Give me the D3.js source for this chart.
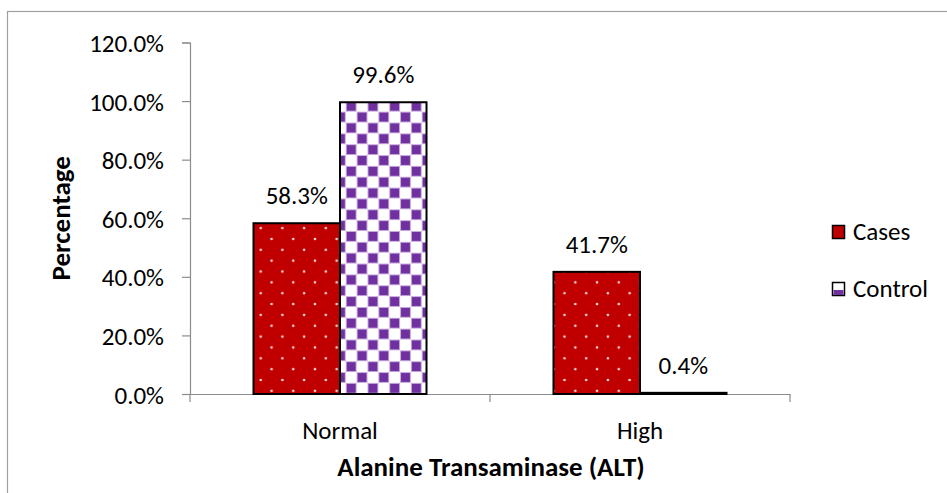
<!DOCTYPE html>
<html>
<head>
<meta charset="utf-8">
<script src="https://cdn.jsdelivr.net/npm/d3@7/dist/d3.min.js"></script>
<style>
  html, body { margin: 0; padding: 0; background: #fff; }
  svg { display: block; font-family: Carlito, Lato, "Liberation Sans", sans-serif; }
</style>
</head>
<body>
<svg id="chart" width="947" height="493"></svg>
<script>
// ALT level distribution, cases vs control
const categories = ["Normal", "High"];
const seriesNames = ["Cases", "Control"];
const casesValues = [58.3, 41.7];
const controlValues = [99.6, 0.4];
const yTicks = [0, 20, 40, 60, 80, 100, 120];

const FONT = "Carlito, Lato, 'Liberation Sans', sans-serif";
const svg = d3.select("#chart");
const margin = { left: 190, right: 157, top: 42.5, bottom: 99 };
const W = 947, H = 493;
const plotW = W - margin.left - margin.right;
const plotH = H - margin.top - margin.bottom;

// outer frame
svg.append("rect")
  .attr("x", 7.5).attr("y", 11.5)
  .attr("width", 960).attr("height", 500)
  .attr("fill", "none").attr("stroke", "#a0a0a0").attr("stroke-width", 1.2);

// fill patterns (coordinates in the plot group's space)
const defs = svg.append("defs");
const P = 21.7;
const dots = defs.append("pattern")
  .attr("id", "dots").attr("patternUnits", "userSpaceOnUse")
  .attr("width", P).attr("height", P).attr("x", 70.7).attr("y", 337.5);
dots.append("rect").attr("width", P).attr("height", P).attr("fill", "#c00000");
[[0, 0], [P, 0], [0, P], [P, P], [P / 2, P / 2]].forEach(([cx, cy]) =>
  dots.append("circle").attr("cx", cx).attr("cy", cy).attr("r", 1.3).attr("fill", "#f6dcdc"));

const checks = defs.append("pattern")
  .attr("id", "checks").attr("patternUnits", "userSpaceOnUse")
  .attr("width", P).attr("height", P).attr("x", 155.8).attr("y", 58.3);
checks.append("rect").attr("width", P).attr("height", P).attr("fill", "#ffffff");
[[0, 0], [P / 2, P / 2]].forEach(([sx, sy]) => {
  checks.append("rect").attr("x", sx).attr("y", sy)
    .attr("width", P / 2).attr("height", P / 2).attr("fill", "#c7a9dc");
  checks.append("rect").attr("x", sx + 1).attr("y", sy + 1)
    .attr("width", P / 2 - 2).attr("height", P / 2 - 2).attr("fill", "#7030a0");
});

const fills = { Cases: "url(#dots)", Control: "url(#checks)" };

const g = svg.append("g").attr("transform", `translate(${margin.left},${margin.top})`);

const x0 = d3.scaleBand().domain(categories).range([0, plotW]).paddingInner(0).paddingOuter(0);
const x1 = d3.scaleBand().domain(seriesNames).range([0, x0.bandwidth()]).paddingInner(0).paddingOuter(0.734);
const y = d3.scaleLinear().domain([0, 120]).range([plotH, 0]);

const rows = categories.map((c, i) => ({
  category: c,
  values: [
    { series: "Cases", value: casesValues[i] },
    { series: "Control", value: controlValues[i] }
  ]
}));

// axes
const yAxis = g.append("g")
  .call(d3.axisLeft(y).tickValues(yTicks).tickSize(8).tickPadding(18)
    .tickFormat(d => d.toFixed(1) + "%"));
yAxis.select(".domain").attr("stroke", "#8c8c8c").attr("stroke-width", 1.2);
yAxis.selectAll(".tick line").attr("stroke", "#8c8c8c").attr("stroke-width", 1.2);
yAxis.selectAll("text").attr("font-size", 25).attr("fill", "#000")
  .attr("font-family", FONT).attr("dy", "0.36em");

const xAxis = g.append("g").attr("transform", `translate(0,${plotH})`)
  .call(d3.axisBottom(x0).tickSize(0).tickPadding(27));
xAxis.select(".domain").attr("stroke", "#8c8c8c").attr("stroke-width", 1.2);
xAxis.selectAll("text").attr("font-size", 25).attr("fill", "#000")
  .attr("font-family", FONT);
// category separators
const seps = [0, x0.bandwidth(), plotW];
g.selectAll("line.sep").data(seps).join("line")
  .attr("class", "sep")
  .attr("x1", d => d).attr("x2", d => d)
  .attr("y1", plotH).attr("y2", plotH + 8)
  .attr("stroke", "#8c8c8c").attr("stroke-width", 1.2);

// bars: positioned in plot space so the fill patterns share one origin
const bars = rows.flatMap(r => r.values.map(v => ({ category: r.category, ...v })));
const barX = d => x0(d.category) + x1(d.series);

g.selectAll("rect.bar").data(bars).join("rect")
  .attr("class", "bar")
  .attr("x", barX)
  .attr("y", d => y(d.value))
  .attr("width", x1.bandwidth())
  .attr("height", d => y(0) - y(d.value))
  .attr("fill", d => fills[d.series])
  .attr("stroke", "#000").attr("stroke-width", 2);

// value labels
g.selectAll("text.value").data(bars).join("text")
  .attr("class", "value")
  .attr("x", d => barX(d) + x1.bandwidth() / 2)
  .attr("y", d => y(d.value) - 19)
  .attr("text-anchor", "middle")
  .attr("font-size", 25).attr("fill", "#000")
  .text(d => d.value.toFixed(1) + "%");

// axis titles
svg.append("text")
  .attr("transform", `translate(70,${margin.top + plotH / 2 + 0}) rotate(-90)`)
  .attr("text-anchor", "middle")
  .attr("font-size", 27).attr("font-weight", "bold")
  .text("Percentage");

svg.append("text")
  .attr("x", 491).attr("y", 476)
  .attr("text-anchor", "middle")
  .attr("font-size", 27).attr("font-weight", "bold")
  .text("Alanine Transaminase (ALT)");

// legend
const legendColors = { Cases: "#c00000", Control: "#7030a0" };
const legend = svg.append("g").attr("transform", "translate(832,225)");
const items = legend.selectAll("g").data(seriesNames).join("g")
  .attr("transform", (d, i) => `translate(0,${i * 57})`);
items.append("rect")
  .attr("x", 0.5).attr("y", 0.5).attr("width", 12).attr("height", 13)
  .attr("fill", d => d === "Control" ? "#fff" : legendColors[d])
  .attr("stroke", "#000").attr("stroke-width", 1.5);
items.filter(d => d === "Control").append("rect")
  .attr("x", 1.5).attr("y", 8).attr("width", 10).attr("height", 5)
  .attr("fill", legendColors.Control);
items.append("text")
  .attr("x", 21).attr("y", 15)
  .attr("font-size", 25)
  .text(d => d);
</script>
</body>
</html>
